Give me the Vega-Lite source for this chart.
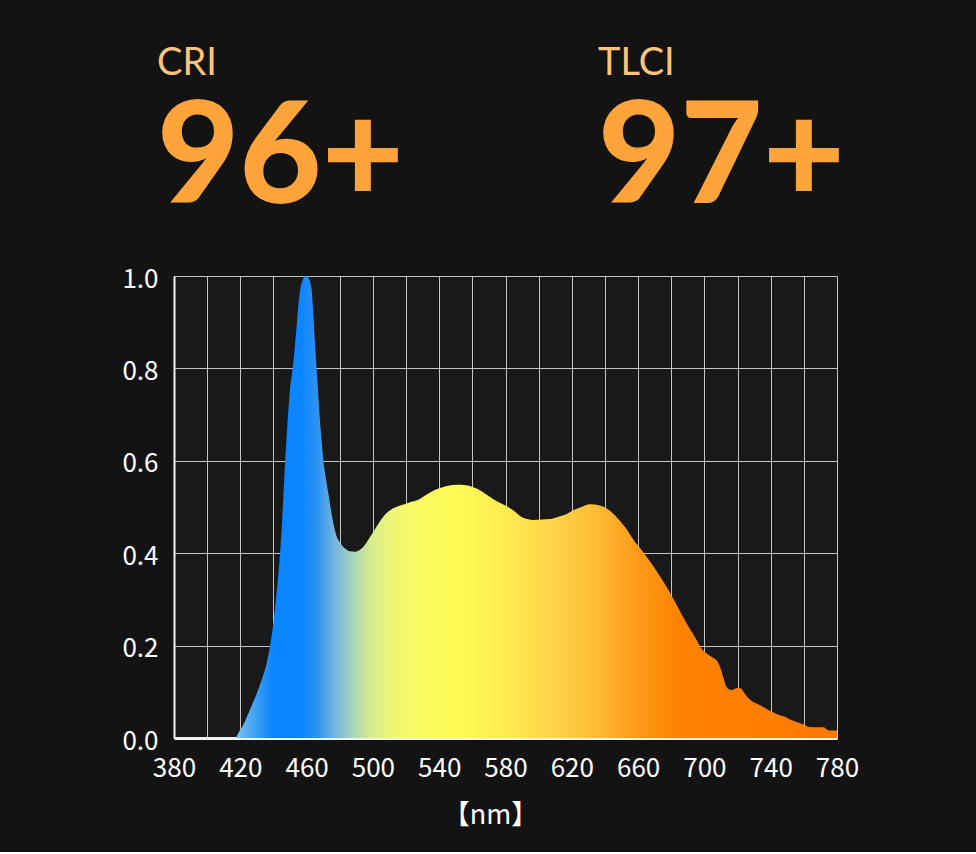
{
  "$schema": "https://vega.github.io/schema/vega-lite/v6.json",
  "background": "#131313",
  "padding": {"left": 121, "top": 45, "right": 117, "bottom": 24},
  "config": {
    "view": {"stroke": null},
    "font": "Noto Sans CJK SC",
    "title": {
      "anchor": "start",
      "offset": 0,
      "font": "Lato",
      "fontSize": 38,
      "fontWeight": "normal",
      "color": "#ffc47c",
      "subtitleFont": "Lato",
      "subtitleFontSize": 142,
      "subtitleFontWeight": 900,
      "subtitleColor": "#ffa43a",
      "subtitlePadding": 8
    }
  },
  "spacing": 30,
  "vconcat": [
    {
      "spacing": 0,
      "hconcat": [
        {
          "width": 424,
          "height": 1,
          "title": {"text": "CRI", "subtitle": "96+", "dx": -17},
          "data": {"values": []},
          "mark": "point"
        },
        {
          "width": 240,
          "height": 1,
          "title": {"text": "TLCI", "subtitle": "97+", "dx": -1},
          "data": {"values": []},
          "mark": "point"
        }
      ]
    },
    {
      "width": 663,
      "height": 462,
      "view": {"stroke": null, "fill": "#191919"},
      "data": {
        "values": [
          {"nm": 380, "v": 0}, {"nm": 400, "v": 0}, {"nm": 417, "v": 0}, {"nm": 419, "v": 0.012},
          {"nm": 422, "v": 0.03}, {"nm": 426, "v": 0.063}, {"nm": 430, "v": 0.097}, {"nm": 433, "v": 0.127},
          {"nm": 436, "v": 0.163}, {"nm": 438, "v": 0.2}, {"nm": 440, "v": 0.25}, {"nm": 442, "v": 0.318},
          {"nm": 444, "v": 0.4}, {"nm": 445, "v": 0.455}, {"nm": 446, "v": 0.525}, {"nm": 447, "v": 0.595},
          {"nm": 448, "v": 0.655}, {"nm": 449, "v": 0.71}, {"nm": 450, "v": 0.755}, {"nm": 451.6, "v": 0.8},
          {"nm": 453, "v": 0.85}, {"nm": 454, "v": 0.892}, {"nm": 455, "v": 0.935}, {"nm": 456, "v": 0.968},
          {"nm": 457.5, "v": 0.99}, {"nm": 459.6, "v": 1.0}, {"nm": 461.5, "v": 0.993}, {"nm": 463, "v": 0.972},
          {"nm": 464, "v": 0.92}, {"nm": 465, "v": 0.857}, {"nm": 466, "v": 0.8}, {"nm": 467, "v": 0.745},
          {"nm": 468, "v": 0.69}, {"nm": 469, "v": 0.645}, {"nm": 470, "v": 0.604}, {"nm": 471.5, "v": 0.565},
          {"nm": 473, "v": 0.532}, {"nm": 474.5, "v": 0.498}, {"nm": 476, "v": 0.467}, {"nm": 478, "v": 0.438},
          {"nm": 480, "v": 0.424}, {"nm": 482, "v": 0.414}, {"nm": 484, "v": 0.408}, {"nm": 486, "v": 0.404},
          {"nm": 489, "v": 0.403}, {"nm": 492, "v": 0.407}, {"nm": 494, "v": 0.413}, {"nm": 497, "v": 0.428},
          {"nm": 500, "v": 0.445}, {"nm": 503, "v": 0.462}, {"nm": 506, "v": 0.478}, {"nm": 510, "v": 0.492},
          {"nm": 514, "v": 0.5}, {"nm": 518, "v": 0.505}, {"nm": 522, "v": 0.51}, {"nm": 527, "v": 0.515},
          {"nm": 532, "v": 0.526}, {"nm": 537, "v": 0.536}, {"nm": 544, "v": 0.545}, {"nm": 550, "v": 0.548},
          {"nm": 556, "v": 0.547}, {"nm": 561, "v": 0.542}, {"nm": 566, "v": 0.533}, {"nm": 570, "v": 0.523},
          {"nm": 575, "v": 0.512}, {"nm": 580, "v": 0.503}, {"nm": 585, "v": 0.492}, {"nm": 589, "v": 0.48},
          {"nm": 593, "v": 0.474}, {"nm": 597, "v": 0.472}, {"nm": 602, "v": 0.473}, {"nm": 607, "v": 0.474},
          {"nm": 612, "v": 0.479}, {"nm": 617, "v": 0.485}, {"nm": 621, "v": 0.493}, {"nm": 625, "v": 0.499},
          {"nm": 631, "v": 0.506}, {"nm": 637, "v": 0.503}, {"nm": 643, "v": 0.492}, {"nm": 646, "v": 0.482},
          {"nm": 649, "v": 0.47}, {"nm": 652, "v": 0.457}, {"nm": 655, "v": 0.441}, {"nm": 658, "v": 0.425},
          {"nm": 661, "v": 0.412}, {"nm": 665, "v": 0.393}, {"nm": 669, "v": 0.373}, {"nm": 674, "v": 0.345},
          {"nm": 679, "v": 0.316}, {"nm": 684, "v": 0.283}, {"nm": 689, "v": 0.25}, {"nm": 694, "v": 0.22},
          {"nm": 698, "v": 0.195}, {"nm": 701, "v": 0.184}, {"nm": 705, "v": 0.174}, {"nm": 708, "v": 0.165},
          {"nm": 710, "v": 0.148}, {"nm": 711.5, "v": 0.13}, {"nm": 713, "v": 0.113}, {"nm": 715, "v": 0.105},
          {"nm": 717, "v": 0.104}, {"nm": 719.5, "v": 0.108}, {"nm": 722, "v": 0.107}, {"nm": 724, "v": 0.098},
          {"nm": 726, "v": 0.088}, {"nm": 729.5, "v": 0.078}, {"nm": 733, "v": 0.072}, {"nm": 737.5, "v": 0.063},
          {"nm": 741.5, "v": 0.056}, {"nm": 745, "v": 0.05}, {"nm": 748, "v": 0.047}, {"nm": 751, "v": 0.041},
          {"nm": 754, "v": 0.037}, {"nm": 757, "v": 0.033}, {"nm": 760, "v": 0.029}, {"nm": 763, "v": 0.024},
          {"nm": 768, "v": 0.023}, {"nm": 772, "v": 0.023}, {"nm": 774, "v": 0.018}, {"nm": 776, "v": 0.016},
          {"nm": 780, "v": 0.016}
        ]
      },
      "mark": {
        "type": "area",
        "interpolate": "monotone",
        "color": {
          "gradient": "linear",
          "x1": 0, "x2": 1, "y1": 0, "y2": 0,
          "stops": [
            {"offset": 0.095, "color": "#7cc0ec"},
            {"offset": 0.125, "color": "#3a9ef5"},
            {"offset": 0.15, "color": "#0a84ff"},
            {"offset": 0.19, "color": "#0a84ff"},
            {"offset": 0.215, "color": "#2a92f2"},
            {"offset": 0.245, "color": "#7ab8dc"},
            {"offset": 0.27, "color": "#a8d4b8"},
            {"offset": 0.295, "color": "#d4ec90"},
            {"offset": 0.33, "color": "#eef674"},
            {"offset": 0.375, "color": "#fafb62"},
            {"offset": 0.425, "color": "#fffb55"},
            {"offset": 0.5, "color": "#ffec50"},
            {"offset": 0.575, "color": "#ffd24a"},
            {"offset": 0.6375, "color": "#ffbb35"},
            {"offset": 0.7, "color": "#ff9a1a"},
            {"offset": 0.7625, "color": "#ff8200"},
            {"offset": 1, "color": "#ff7a00"}
          ]
        }
      },
      "encoding": {
        "x": {
          "field": "nm",
          "type": "quantitative",
          "scale": {"domain": [380, 780], "nice": false, "zero": false},
          "axis": {
            "values": [380, 400, 420, 440, 460, 480, 500, 520, 540, 560, 580, 600, 620, 640, 660, 680, 700, 720, 740, 760, 780],
            "labelExpr": "(datum.value - 380) % 40 == 0 ? datum.label : ''",
            "title": "【nm】",
            "grid": true,
            "gridColor": "#c4c4c4",
            "gridWidth": 1,
            "domainColor": "#f2f2f2",
            "domainWidth": 3,
            "ticks": false,
            "tickSize": 0,
            "labelColor": "#ffffff",
            "labelFont": "Noto Sans CJK SC",
            "labelFontSize": 26,
            "labelPadding": 17,
            "labelBaseline": "top",
            "labelFlush": false,
            "labelOverlap": false,
            "titleColor": "#ffffff",
            "titleFont": "Noto Sans CJK SC",
            "titleFontSize": 27,
            "titleFontWeight": "normal",
            "titlePadding": 21,
            "titleX": 316
          }
        },
        "y": {
          "field": "v",
          "type": "quantitative",
          "scale": {"domain": [0, 1], "nice": false},
          "axis": {
            "values": [0, 0.2, 0.4, 0.6, 0.8, 1.0],
            "format": ".1f",
            "title": null,
            "grid": true,
            "gridColor": "#c4c4c4",
            "gridWidth": 1,
            "domainColor": "#f2f2f2",
            "domainWidth": 2,
            "ticks": false,
            "tickSize": 0,
            "labelColor": "#ffffff",
            "labelFont": "Noto Sans CJK SC",
            "labelFontSize": 26,
            "labelPadding": 16,
            "labelOffset": 3,
            "labelFlush": false,
            "labelOverlap": false
          }
        }
      }
    }
  ]
}
